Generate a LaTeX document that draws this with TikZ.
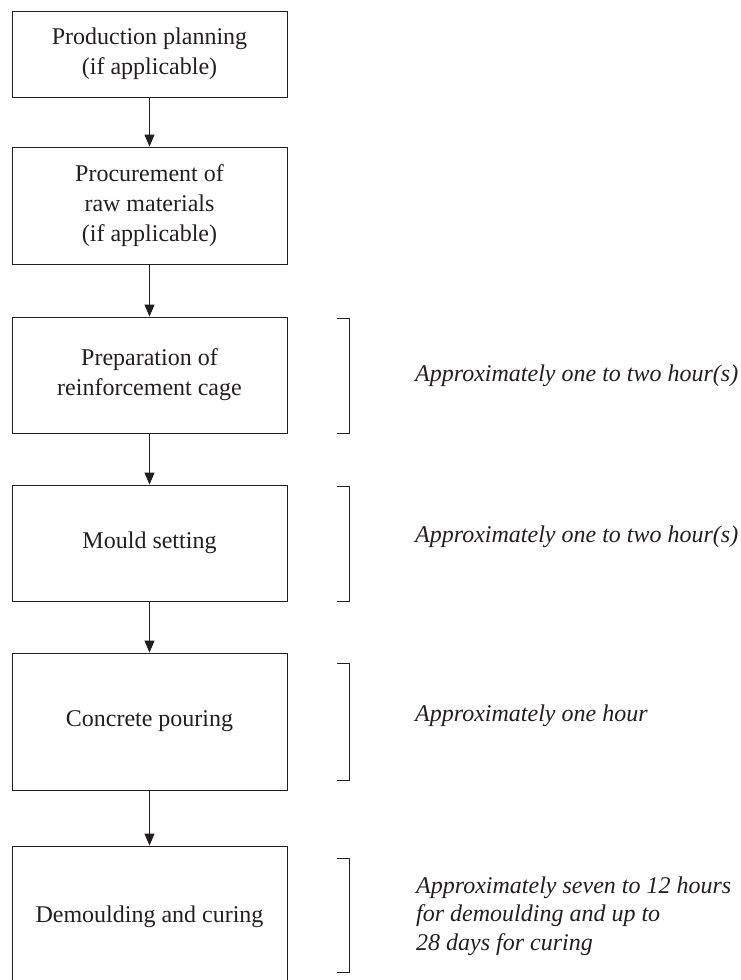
\documentclass[tikz,border=0pt]{standalone}
\usepackage{fontspec}
\setmainfont{Liberation Serif}
\usetikzlibrary{arrows.meta}

\definecolor{ink}{HTML}{231F20}

\tikzset{
  stepbox/.style={draw=ink, line width=0.9pt, minimum width=275pt, align=center,
    inner sep=0pt, font=\fontsize{24}{30}\selectfont, text=ink},
  flow/.style={draw=ink, line width=0.9pt, -{Triangle[width=10pt,length=12pt]}},
  bracket/.style={draw=ink, line width=0.9pt},
  note/.style={anchor=west, align=left, inner sep=0pt, text=ink,
    font=\fontsize{24}{28.5}\selectfont\itshape}
}

\begin{document}
\begin{tikzpicture}[x=1pt,y=-1pt]
  \useasboundingbox (0,0) rectangle (740,980);
  \clip (0,0) rectangle (740,980);

  % process steps
  \node[stepbox, minimum height=86pt]  (plan)    at (149.5,54)    {Production planning\\(if applicable)};
  \node[stepbox, minimum height=117pt] (procure) at (149.5,205.5) {Procurement of\\raw materials\\(if applicable)};
  \node[stepbox, minimum height=116pt] (cage)    at (149.5,375)   {Preparation of\\reinforcement cage};
  \node[stepbox, minimum height=116pt] (mould)   at (149.5,543)   {Mould setting};
  \node[stepbox, minimum height=137pt] (pour)    at (149.5,721.5) {Concrete pouring};
  \node[stepbox, minimum height=142pt] (cure)    at (149.5,917)   {Demoulding and curing};

  % connectors
  \draw[flow] (plan.south)    -- (procure.north);
  \draw[flow] (procure.south) -- (cage.north);
  \draw[flow] (cage.south)    -- (mould.north);
  \draw[flow] (mould.south)   -- (pour.north);
  \draw[flow] (pour.south)    -- (cure.north);

  % duration brackets
  \draw[bracket] (337,318) -- (349,318) -- (349,433) -- (337,433);
  \draw[bracket] (337,486) -- (349,486) -- (349,601) -- (337,601);
  \draw[bracket] (337,663) -- (349,663) -- (349,780) -- (337,780);
  \draw[bracket] (337,858) -- (349,858) -- (349,972) -- (337,972);

  % duration notes
  \node[note] (t1) at (415,376) {Approximately one to two hour(s)};
  \node[note] (t2) at (415,537) {Approximately one to two hour(s)};
  \node[note] (t3) at (415,716) {Approximately one hour};
  \node[note] (t4) at (416,916) {Approximately seven to 12 hours\\for demoulding and up to\\28 days for curing};
\end{tikzpicture}
\end{document}
